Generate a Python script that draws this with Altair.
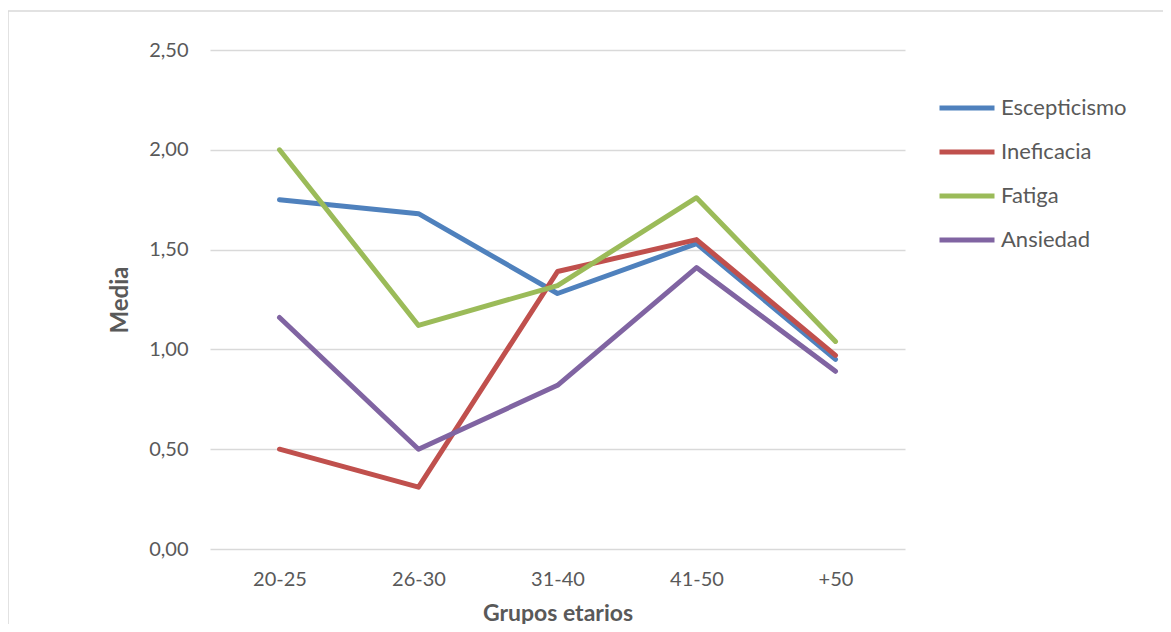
import altair as alt
import pandas as pd

grupos = ["20-25", "26-30", "31-40", "41-50", "+50"]
series = ["Escepticismo", "Ineficacia", "Fatiga", "Ansiedad"]
escepticismo = [1.75, 1.68, 1.28, 1.53, 0.95]
ineficacia = [0.50, 0.31, 1.39, 1.55, 0.97]
fatiga = [2.00, 1.12, 1.32, 1.76, 1.04]
ansiedad = [1.16, 0.50, 0.82, 1.41, 0.89]
colores = ["#4F81BD", "#C0504D", "#9BBB59", "#8064A2"]
y_ticks = [0, 0.5, 1.0, 1.5, 2.0, 2.5]

rows = []
for s, vals in zip(series, [escepticismo, ineficacia, fatiga, ansiedad]):
    for g, v in zip(grupos, vals):
        rows.append({"Grupo": g, "Serie": s, "Media": v, "orden": series.index(s)})
df = pd.DataFrame(rows)

W, H = 695, 499
FONT = "Lato"
TXT = "#595959"

frame = alt.Chart(pd.DataFrame({"a": [0]})).mark_rect(
    filled=False, stroke="#D9D9D9", strokeWidth=1.5
).encode(
    x=alt.value(-202), x2=alt.value(W + 300),
    y=alt.value(-39), y2=alt.value(H + 200)
)

lines = alt.Chart(df).mark_line(strokeWidth=5, strokeCap="round", strokeJoin="round").encode(
    x=alt.X("Grupo:N", sort=grupos,
            scale=alt.Scale(type="point", padding=0.5),
            axis=alt.Axis(title="Grupos etarios", labelAngle=0, domain=False, ticks=False,
                          labelPadding=20, titlePadding=13, grid=False, titleFontSize=23)),
    y=alt.Y("Media:Q", scale=alt.Scale(domain=[0, 2.5], nice=False),
            axis=alt.Axis(title="Media", values=y_ticks, domain=False, ticks=False,
                          labelExpr="replace(format(datum.value, '.2f'), '.', ',')",
                          labelPadding=22, titlePadding=16, gridColor="#D9D9D9",
                          gridWidth=1.5, titleFontSize=24)),
    color=alt.Color("Serie:N", sort=series,
                    scale=alt.Scale(domain=series, range=colores),
                    legend=alt.Legend(title=None, orient="none", legendX=727, legendY=28,
                                      symbolType="stroke", symbolSize=3025,
                                      symbolStrokeWidth=5, labelOffset=4,
                                      rowPadding=3, labelFontSize=22,
                                      labelColor=TXT, labelFont=FONT)),
    order=alt.Order("orden:Q")
)

chart = alt.layer(frame, lines).properties(
    width=W, height=H,
    autosize=alt.AutoSizeParams(type="none"),
    padding={"left": 202, "top": 42, "right": 258, "bottom": 75}
).configure_view(stroke=None).configure_axis(
    labelFont=FONT, titleFont=FONT, labelFontSize=20,
    labelColor=TXT, titleColor=TXT, titleFontWeight="bold"
)

chart.save("out.html", embed_options={"renderer": "svg", "actions": False})
